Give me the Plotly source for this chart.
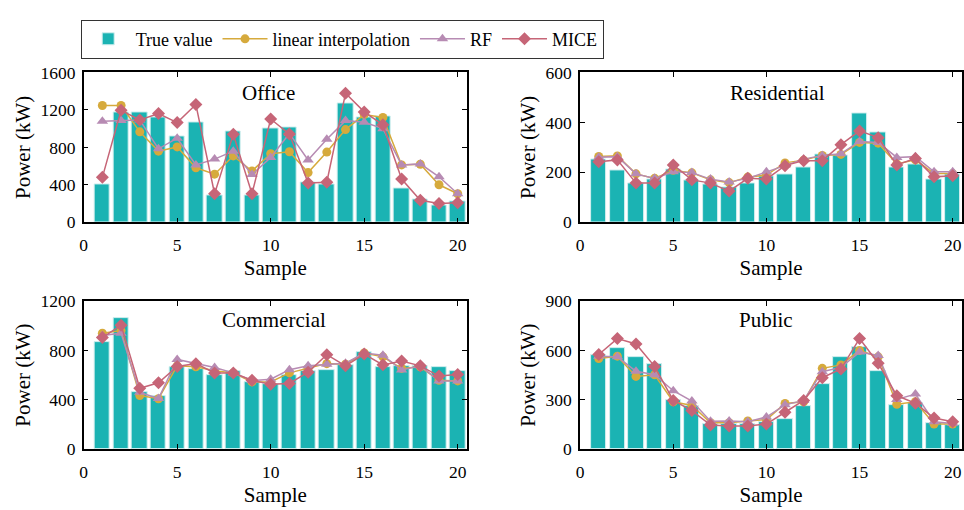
import plotly.graph_objects as go

# Sample index shared by all panels
samples = list(range(1, 21))

# ---- Office ----
office_true = [400, 1170, 1168, 1120, 915, 1065, 284, 966, 288, 997,
               1017, 425, 400, 1274, 1120, 1134, 367, 243, 182, 219]
office_linear = [1247, 1247, 966, 760, 805, 582, 514, 709, 548, 733,
                 754, 531, 750, 990, 1150, 1120, 613, 620, 401, 305]
office_rf = [1079, 1086, 1093, 785, 898, 613, 675, 760, 510, 692,
             949, 665, 887, 1086, 1069, 1000, 613, 624, 486, 305]
office_mice = [480, 1196, 1093, 1161, 1065, 1257, 305, 939, 305, 1103,
               942, 421, 428, 1377, 1179, 1041, 462, 236, 202, 209]

# ---- Residential ----
res_true = [253, 207, 157, 170, 211, 166, 150, 140, 154, 182,
            190, 218, 272, 269, 437, 360, 221, 233, 173, 191]
res_linear = [264, 266, 194, 176, 208, 198, 170, 159, 181, 189,
              238, 249, 268, 272, 320, 317, 234, 250, 195, 195]
res_rf = [261, 263, 194, 176, 202, 199, 173, 161, 176, 202,
          230, 253, 268, 275, 324, 320, 260, 263, 202, 202]
res_mice = [243, 250, 157, 157, 230, 170, 157, 125, 176, 173,
            227, 247, 247, 311, 366, 339, 230, 256, 182, 186]

# ---- Commercial ----
com_true = [870, 1060, 460, 426, 662, 647, 597, 631, 545, 527,
            603, 631, 644, 683, 784, 665, 675, 670, 662, 636]
com_linear = [940, 961, 434, 408, 675, 667, 636, 618, 545, 545,
              618, 654, 693, 688, 779, 748, 654, 667, 558, 553]
com_rf = [922, 940, 460, 410, 727, 693, 662, 618, 556, 566,
          644, 675, 688, 696, 779, 761, 641, 675, 553, 553]
com_mice = [904, 1005, 493, 538, 670, 693, 618, 618, 558, 525,
            532, 623, 766, 675, 771, 683, 714, 675, 592, 605]

# ---- Public ----
pub_true = [571, 616, 561, 514, 300, 261, 150, 150, 150, 165,
            185, 263, 395, 559, 619, 477, 265, 277, 160, 148]
pub_linear = [551, 565, 442, 452, 288, 265, 160, 160, 171, 179,
              277, 288, 491, 512, 600, 561, 273, 288, 152, 152]
pub_rf = [565, 561, 473, 452, 355, 292, 169, 171, 166, 195,
          269, 296, 471, 497, 590, 569, 302, 335, 166, 156]
pub_mice = [575, 672, 639, 503, 296, 234, 146, 140, 140, 152,
            224, 296, 434, 487, 672, 522, 325, 279, 189, 166]

panels = [
    ("Office", office_true, office_linear, office_rf, office_mice, 1600, 400),
    ("Residential", res_true, res_linear, res_rf, res_mice, 600, 200),
    ("Commercial", com_true, com_linear, com_rf, com_mice, 1200, 400),
    ("Public", pub_true, pub_linear, pub_rf, pub_mice, 900, 300),
]

W, H = 964, 510
TEAL = "#1BB3B3"
GOLD = "#D6AA3C"
LILAC = "#B78BB3"
ROSE = "#C66577"
FONT = "Liberation Serif"

# panel frames in pixels: (left, right, top, bottom)
frames = [
    (80, 465, 65, 221),
    (578.5, 962, 65, 221),
    (80, 465, 303, 457),
    (578.5, 962, 303, 457),
]
title_pos = [(265.5, 86), (777, 86), (271, 323), (765, 323)]

fig = go.Figure()
layout = {}
annotations = []

for i, (name, tv, lin, rf, mice, ymax, dtick) in enumerate(panels):
    n = i + 1
    xa = "x" if n == 1 else f"x{n}"
    ya = "y" if n == 1 else f"y{n}"
    first = i == 0
    fig.add_trace(go.Bar(
        x=samples, y=tv, xaxis=xa, yaxis=ya, name="True value",
        width=0.82, marker=dict(color=TEAL, line=dict(color="#d3efef", width=1)),
        showlegend=first, legendgroup="tv"))
    fig.add_trace(go.Scatter(
        x=samples, y=lin, xaxis=xa, yaxis=ya, name="linear interpolation",
        mode="lines+markers", line=dict(color=GOLD, width=1.5),
        marker=dict(symbol="circle", size=9, color=GOLD),
        showlegend=first, legendgroup="lin"))
    fig.add_trace(go.Scatter(
        x=samples, y=rf, xaxis=xa, yaxis=ya, name="RF",
        mode="lines+markers", line=dict(color=LILAC, width=1.5),
        marker=dict(symbol="triangle-up", size=10, color=LILAC),
        showlegend=first, legendgroup="rf"))
    fig.add_trace(go.Scatter(
        x=samples, y=mice, xaxis=xa, yaxis=ya, name="MICE",
        mode="lines+markers", line=dict(color=ROSE, width=1.5),
        marker=dict(symbol="diamond", size=10, color=ROSE),
        showlegend=first, legendgroup="mice"))

    l, r, t, b = frames[i]
    axis_common = dict(
        showline=True, linecolor="black", linewidth=1.5, mirror="ticks",
        ticks="inside", ticklen=5, tickwidth=1.2, tickcolor="black",
        showgrid=False, zeroline=False,
        tickfont=dict(family=FONT, size=17.5, color="black"),
    )
    layout["xaxis" if n == 1 else f"xaxis{n}"] = dict(
        domain=[l / W, r / W], anchor=ya, range=[0, 20.5],
        tickmode="linear", tick0=0, dtick=5, ticklabelstandoff=6,
        title=dict(text="Sample", font=dict(family=FONT, size=21, color="black"), standoff=6),
        **axis_common)
    layout["yaxis" if n == 1 else f"yaxis{n}"] = dict(
        domain=[1 - b / H, 1 - t / H], anchor=xa, range=[0, ymax],
        tickmode="linear", tick0=0, dtick=dtick, ticklabelstandoff=3,
        title=dict(text="Power (kW)", font=dict(family=FONT, size=21, color="black"), standoff=4),
        **axis_common)
    tx, ty = title_pos[i]
    annotations.append(dict(
        text=name, x=tx / W, y=1 - ty / H, xref="paper", yref="paper",
        xanchor="center", yanchor="middle", showarrow=False,
        font=dict(family=FONT, size=21, color="black")))

fig.update_layout(
    width=W, height=H,
    margin=dict(l=0, r=0, t=0, b=0),
    paper_bgcolor="white", plot_bgcolor="white",
    bargap=0,
    annotations=annotations,
    legend=dict(
        orientation="h", x=77 / W, y=1 - 10 / H, xanchor="left", yanchor="top",
        bordercolor="#333333", borderwidth=1, bgcolor="white",
        font=dict(family=FONT, size=18, color="black"),
        itemwidth=45, tracegroupgap=0,
    ),
    **layout,
)

fig.write_html("out.html")
